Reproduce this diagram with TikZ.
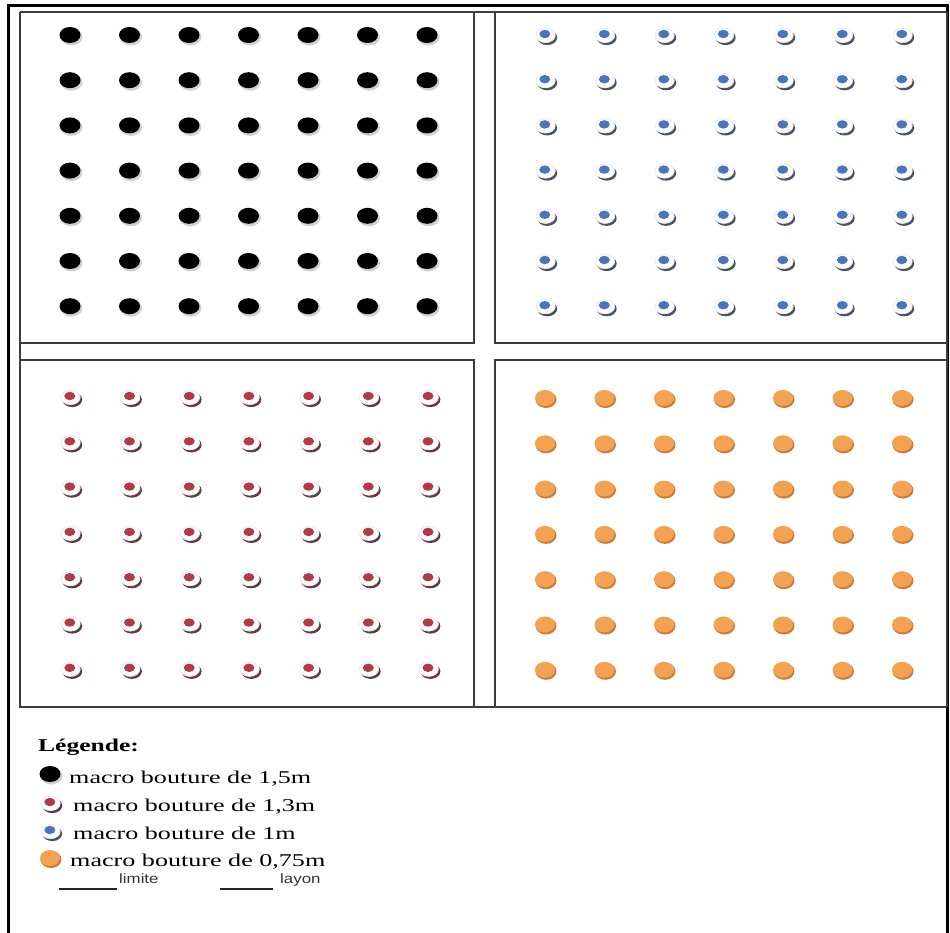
\documentclass[tikz,border=0pt]{standalone}
\usepackage{fontspec}
\setmainfont{Liberation Serif}
\newfontfamily\lsans{Liberation Sans}
\definecolor{gridline}{HTML}{3C3C3C}
\definecolor{bluein}{HTML}{4A74BC}
\definecolor{redin}{HTML}{B03A4A}
\definecolor{orangefill}{HTML}{F2A250}
\definecolor{orangeedge}{HTML}{CF7A38}
\definecolor{bluesh}{HTML}{4A5460}
\definecolor{redsh}{HTML}{5E3C40}
\newcommand{\blackdot}[2]{%
  \fill[black!18] (#1+1.5,#2+2) ellipse [x radius=11pt, y radius=8.5pt];
  \fill[black] (#1,#2) ellipse [x radius=10.5pt, y radius=8pt];}
\newcommand{\buttondot}[4]{%
  \fill[#4] (#1+1.2,#2+1.6) ellipse [x radius=10pt, y radius=7.5pt];
  \fill[white] (#1-0.5,#2-0.6) ellipse [x radius=10pt, y radius=7.5pt];
  \draw[#3!18, line width=0.5pt] (#1-0.5,#2-0.6) ellipse [x radius=9.6pt, y radius=7.1pt];
  \fill[#3] (#1-1.2,#2-2) ellipse [x radius=5.5pt, y radius=4.2pt];}
\newcommand{\orangedot}[2]{%
  \fill[orangeedge] (#1+1,#2+1.5) ellipse [x radius=10.5pt, y radius=8.5pt];
  \fill[orangefill] (#1,#2) ellipse [x radius=10pt, y radius=8pt];}
\tikzset{
  frameline/.style={line width=3pt, black},
  boxline/.style={line width=1.5pt, gridline},
  legtext/.style={anchor=base west, inner sep=0pt, font=\fontsize{18}{20}\selectfont},
  smalltext/.style={anchor=base west, inner sep=0pt, font=\lsans\fontsize{13.5}{16}\selectfont, black!80},
  keyline/.style={line width=1.2pt, black!85}
}
\begin{document}
\begin{tikzpicture}[x=1pt,y=-1pt]
\useasboundingbox (0,0) rectangle (950,933);
% outer frame
\draw[frameline] (8,933) -- (8,5.5) -- (947.5,5.5) -- (947.5,933);
% boxes
\draw[boxline] (20,12) -- (947,12);
\draw[boxline] (20,12) -- (20,707) -- (947,707);
\draw[boxline] (947,12) -- (947,707);
\draw[boxline] (474,12) -- (474,343) -- (20,343);
\draw[boxline] (495,12) -- (495,343) -- (947,343);
\draw[boxline] (20,360) -- (474,360) -- (474,707);
\draw[boxline] (947,360) -- (495,360) -- (495,707);
% dots
\foreach \i in {0,...,6}{
  \foreach \j in {0,...,6}{
    \blackdot{70+59.5*\i}{35+45.2*\j}
    \buttondot{546+59.5*\i}{36+45.2*\j}{bluein}{bluesh}
    \buttondot{71+59.7*\i}{398+45.3*\j}{redin}{redsh}
    \orangedot{545+59.5*\i}{398+45.3*\j}
  }
}
% legend
\node[legtext] (title) at (38,751) {\scalebox{1.42}[1]{\textbf{Légende:}}};
\blackdot{50}{774}
\node[legtext] (l1) at (69,783) {\scalebox{1.45}[1]{macro bouture de 1,5m}};
\buttondot{51}{804}{redin}{redsh}
\node[legtext] (l2) at (73,811) {\scalebox{1.45}[1]{macro bouture de 1,3m}};
\buttondot{51}{832}{bluein}{bluesh}
\node[legtext] (l3) at (73,839) {\scalebox{1.45}[1]{macro bouture de 1m}};
\orangedot{50}{858}
\node[legtext] (l4) at (70,866) {\scalebox{1.45}[1]{macro bouture de 0,75m}};
\coordinate (k1a) at (59,889);
\coordinate (k1b) at (117,889);
\draw[keyline] (k1a) -- (k1b);
\node[smalltext] (lim) at (119,883) {\scalebox{1.25}[1]{limite}};
\coordinate (k2a) at (220,889);
\coordinate (k2b) at (273,889);
\draw[keyline] (k2a) -- (k2b);
\node[smalltext] (lay) at (280,883) {\scalebox{1.25}[1]{layon}};
\end{tikzpicture}
\end{document}
